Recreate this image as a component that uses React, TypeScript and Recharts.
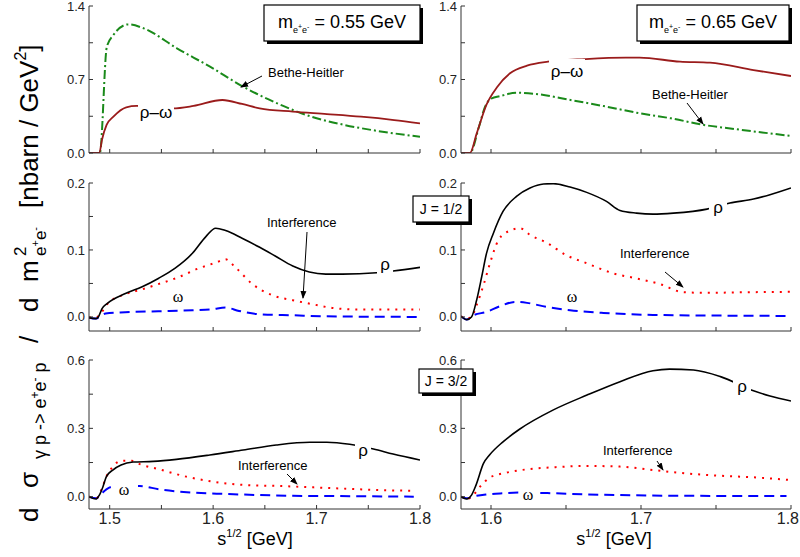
import React from "react";
import { LineChart, Line, XAxis, YAxis } from "recharts";

type Pt = [number, number];

// ---- m(e+e-) = 0.55 GeV, unpolarised (top left) ----
const rhoOmega055: Pt[] = [
  [1.48, 0], [1.49, 0], [1.4925, 0.124], [1.497, 0.267], [1.5036, 0.346], [1.516, 0.435],
  [1.526, 0.448], [1.561, 0.425], [1.581, 0.448], [1.609, 0.505], [1.628, 0.467], [1.645, 0.425],
  [1.677, 0.394], [1.71, 0.371], [1.743, 0.346], [1.775, 0.314], [1.8, 0.283],
];
const betheHeitler055: Pt[] = [
  [1.48, 0], [1.4905, 0], [1.4972, 1.01], [1.5036, 1.124], [1.518, 1.225], [1.533, 1.187],
  [1.565, 0.997], [1.597, 0.822], [1.63, 0.626], [1.662, 0.473], [1.695, 0.346], [1.727, 0.267],
  [1.759, 0.21], [1.8, 0.155],
];

// ---- m(e+e-) = 0.65 GeV (top right) ----
const rhoOmega065: Pt[] = [
  [1.58, 0], [1.586, 0], [1.5905, 0.187], [1.597, 0.46], [1.604, 0.626], [1.6127, 0.759],
  [1.624, 0.832], [1.638, 0.87], [1.663, 0.895], [1.69, 0.908], [1.699, 0.908], [1.726, 0.87],
  [1.746, 0.86], [1.775, 0.79], [1.8, 0.733],
];
const betheHeitler065: Pt[] = [
  [1.58, 0], [1.586, 0], [1.592, 0.25], [1.596, 0.44], [1.6005, 0.521], [1.6056, 0.54],
  [1.617, 0.574], [1.63, 0.562], [1.653, 0.505], [1.675, 0.447], [1.697, 0.384], [1.72, 0.33],
  [1.742, 0.267], [1.764, 0.226], [1.8, 0.162],
];

// ---- J = 1/2 ----
const rho055J1: Pt[] = [
  [1.48, -0.001], [1.4865, -0.0025], [1.489, 0], [1.4926, 0.0125], [1.4975, 0.02], [1.5152, 0.035],
  [1.5314, 0.045], [1.547, 0.0575], [1.563, 0.0725], [1.58, 0.095], [1.593, 0.12], [1.6025, 0.1325],
  [1.612, 0.129], [1.628, 0.1175], [1.645, 0.104], [1.66, 0.091], [1.677, 0.076], [1.693, 0.067],
  [1.709, 0.064], [1.725, 0.064], [1.758, 0.066], [1.774, 0.0685], [1.8, 0.074],
];
const int055J1: Pt[] = [
  [1.48, -0.001], [1.4865, -0.001], [1.49, 0.0025], [1.4975, 0.019], [1.515, 0.034], [1.531, 0.041],
  [1.547, 0.049], [1.566, 0.059], [1.586, 0.0725], [1.6025, 0.081], [1.612, 0.086], [1.6216, 0.074],
  [1.638, 0.049], [1.657, 0.0325], [1.677, 0.025], [1.696, 0.019], [1.715, 0.0135], [1.741, 0.011],
  [1.8, 0.011],
];
const omega055J1: Pt[] = [
  [1.48, -0.001], [1.4865, -0.0025], [1.49, 0], [1.496, 0.005], [1.515, 0.007], [1.547, 0.0085],
  [1.58, 0.01], [1.599, 0.0115], [1.612, 0.014], [1.625, 0.009], [1.645, 0.004], [1.677, 0.0025],
  [1.709, 0.001], [1.8, 0],
];
const rho065J1: Pt[] = [
  [1.58, 0.001], [1.5838, -0.004], [1.587, 0], [1.5904, 0.025], [1.5938, 0.06], [1.597, 0.095],
  [1.6016, 0.125], [1.608, 0.1575], [1.617, 0.18], [1.626, 0.1925], [1.635, 0.1985], [1.6416, 0.199],
  [1.6527, 0.194], [1.6638, 0.186], [1.677, 0.1725], [1.686, 0.159], [1.697, 0.155], [1.708, 0.1535],
  [1.7216, 0.155], [1.744, 0.161], [1.7593, 0.17], [1.775, 0.176], [1.786, 0.1825], [1.8, 0.1925],
];
const int065J1: Pt[] = [
  [1.58, 0.001], [1.5838, -0.0025], [1.587, 0], [1.5904, 0.0175], [1.595, 0.0475], [1.5993, 0.08],
  [1.605, 0.115], [1.6127, 0.129], [1.6193, 0.1325], [1.626, 0.1225], [1.637, 0.111], [1.65, 0.0925],
  [1.664, 0.08], [1.6816, 0.065], [1.697, 0.0575], [1.7127, 0.049], [1.728, 0.037], [1.7416, 0.036],
  [1.775, 0.037], [1.8, 0.0375],
];
const omega065J1: Pt[] = [
  [1.58, 0.001], [1.5838, -0.004], [1.5884, 0.0025], [1.597, 0.0075], [1.606, 0.016], [1.616, 0.0225],
  [1.624, 0.021], [1.637, 0.015], [1.6527, 0.01], [1.675, 0.006], [1.708, 0.003], [1.7527, 0.002],
  [1.8, 0.0015],
];

// ---- J = 3/2 ----
const rho055J3: Pt[] = [
  [1.48, 0], [1.487, -0.01], [1.49, 0.007], [1.4935, 0.044], [1.4968, 0.088], [1.503, 0.117],
  [1.511, 0.139], [1.5226, 0.152], [1.542, 0.155], [1.5645, 0.164], [1.5968, 0.183], [1.629, 0.205],
  [1.661, 0.227], [1.6935, 0.239], [1.71, 0.239], [1.732, 0.23], [1.755, 0.209], [1.774, 0.187],
  [1.8, 0.161],
];
const int055J3: Pt[] = [
  [1.48, 0], [1.487, -0.007], [1.4918, 0.029], [1.4968, 0.088], [1.503, 0.132], [1.511, 0.157],
  [1.521, 0.158], [1.529, 0.143], [1.548, 0.12], [1.574, 0.088], [1.6, 0.066], [1.632, 0.051],
  [1.6645, 0.047], [1.697, 0.041], [1.729, 0.035], [1.761, 0.029], [1.794, 0.026],
];
const omega055J3: Pt[] = [
  [1.48, 0], [1.487, -0.007], [1.4918, 0.012], [1.4968, 0.032], [1.503, 0.044], [1.529, 0.047],
  [1.548, 0.032], [1.58, 0.018], [1.613, 0.012], [1.645, 0.007], [1.677, 0.004], [1.71, 0.003],
  [1.794, 0],
];
const rho065J3: Pt[] = [
  [1.58, 0], [1.5838, -0.01], [1.587, 0.007], [1.59, 0.051], [1.595, 0.146], [1.599, 0.183],
  [1.608, 0.241], [1.619, 0.296], [1.6416, 0.381], [1.664, 0.446], [1.686, 0.505], [1.708, 0.553],
  [1.719, 0.56], [1.735, 0.556], [1.753, 0.527], [1.775, 0.465], [1.786, 0.442], [1.8, 0.42],
];
const int065J3: Pt[] = [
  [1.58, 0], [1.5838, -0.01], [1.5882, 0.007], [1.5927, 0.044], [1.599, 0.083], [1.61, 0.105],
  [1.6238, 0.12], [1.6416, 0.129], [1.664, 0.135], [1.686, 0.132], [1.708, 0.117], [1.7305, 0.102],
  [1.7527, 0.092], [1.775, 0.085], [1.8, 0.073],
];
const omega065J3: Pt[] = [
  [1.58, 0], [1.5838, -0.007], [1.5904, 0.004], [1.597, 0.01], [1.6082, 0.015], [1.6193, 0.018],
  [1.6416, 0.015], [1.664, 0.01], [1.686, 0.007], [1.7305, 0.004], [1.797, 0.003],
];

// axis ticks
const leftXTicks = [1.5, 1.55, 1.6, 1.65, 1.7, 1.75, 1.8];
const rightXTicks = [1.6, 1.65, 1.7, 1.75, 1.8];
const xLabelTicks = [1.5, 1.6, 1.7, 1.8];
const topYTicks = [0, 0.35, 0.7, 1.05, 1.4];
const topYLabels = [0, 0.7, 1.4];
const midYTicks = [0, 0.05, 0.1, 0.15, 0.2];
const midYLabels = [0, 0.1, 0.2];
const botYTicks = [0, 0.15, 0.3, 0.45, 0.6];
const botYLabels = [0, 0.3, 0.6];

const FONT = "Arial, 'Liberation Sans', sans-serif";
const AXIS = "#333";

const styles = {
  rhoOmega: { stroke: "#9a1b1b", width: 1.8, dash: undefined },
  bh: { stroke: "#1a8a1a", width: 2, dash: "9 3 2 3" },
  rho: { stroke: "#000", width: 1.6, dash: undefined },
  inter: { stroke: "#ff0000", width: 2, dash: "2 6" },
  omega: { stroke: "#0000ff", width: 2, dash: "10 6" },
};

const toRows = (pts: Pt[]) => pts.map(([x, y]) => ({ x, y }));
const has = (list: number[], v: number) => list.some((l) => Math.abs(l - v) < 1e-6);

function XTick({ x, y, payload, labels, nearEdge }: any) {
  const v = payload.value;
  // last label on the right panel would run off the page: pull it in
  const atEdge = nearEdge && Math.abs(v - 1.8) < 1e-6;
  return (
    <g>
      <line x1={x} x2={x} y1={y} y2={y - 4} stroke={AXIS} />
      {labels && has(labels, v) && (
        <text x={atEdge ? x + 8 : x} y={y + 15} textAnchor={atEdge ? "end" : "middle"} fontSize={16} fill="#222" fontFamily={FONT}>
          {v.toFixed(1)}
        </text>
      )}
    </g>
  );
}

function YTick({ x, y, payload, labels }: any) {
  const v = payload.value;
  return (
    <g>
      <line x1={x} x2={x + 4} y1={y} y2={y} stroke={AXIS} />
      {has(labels, v) && (
        <text x={x - 4} y={y} dy="0.35em" textAnchor="end" fontSize={13} fill="#222" fontFamily={FONT}>
          {v.toFixed(1)}
        </text>
      )}
    </g>
  );
}

interface PanelProps {
  left: number;
  top: number;
  width: number;
  height: number;
  xDomain: [number, number];
  xTicks: number[];
  xLabels?: number[];
  yDomain: [number, number];
  yTicks: number[];
  yLabels: number[];
  series: { data: Pt[]; kind: keyof typeof styles }[];
}

function Panel(p: PanelProps) {
  const ml = 40, mt = 12, mr = 16, xh = 30;
  const nearEdge = p.left + p.width > 780;
  return (
    <div style={{ position: "absolute", left: p.left - ml, top: p.top - mt }}>
      <LineChart width={p.width + ml + mr} height={p.height + mt + xh} margin={{ top: mt, right: mr, left: 0, bottom: 0 }}>
        <XAxis
          type="number"
          dataKey="x"
          domain={p.xDomain}
          ticks={p.xTicks}
          interval={0}
          allowDataOverflow
          height={xh}
          tickSize={0}
          tickMargin={0}
          tickLine={false}
          axisLine={{ stroke: AXIS }}
          tick={(t: any) => <XTick {...t} labels={p.xLabels} nearEdge={nearEdge} />}
        />
        <YAxis
          type="number"
          domain={p.yDomain}
          ticks={p.yTicks}
          interval={0}
          allowDataOverflow
          width={ml}
          tickSize={0}
          tickMargin={0}
          tickLine={false}
          axisLine={{ stroke: AXIS }}
          tick={(t: any) => <YTick {...t} labels={p.yLabels} />}
        />
        {p.series.map((s, i) => {
          const st = styles[s.kind];
          return (
            <Line
              key={i}
              data={toRows(s.data)}
              dataKey="y"
              type="monotone"
              stroke={st.stroke}
              strokeWidth={st.width}
              strokeDasharray={st.dash}
              dot={false}
              activeDot={false}
              isAnimationActive={false}
            />
          );
        })}
      </LineChart>
    </div>
  );
}

function NoteBox({ x, y, w, h, children }: any) {
  return (
    <g>
      <rect x={x + 3} y={y + 3} width={w} height={h} fill="#000" />
      <rect x={x} y={y} width={w} height={h} fill="#fff" stroke="#000" strokeWidth={1.2} />
      {children}
    </g>
  );
}

function Tag({ x, y, text, size = 17, serif = false, bg }: any) {
  return (
    <g>
      {bg && <rect x={bg[0]} y={bg[1]} width={bg[2]} height={bg[3]} fill="#fff" />}
      <text x={x} y={y} textAnchor="middle" fontSize={size} fontFamily={serif ? "'Liberation Serif', 'DejaVu Serif', serif" : FONT} fill="#000">
        {text}
      </text>
    </g>
  );
}

function Arrow({ x1, y1, x2, y2 }: any) {
  return <line x1={x1} y1={y1} x2={x2} y2={y2} stroke="#000" strokeWidth={1} markerEnd="url(#ah)" />;
}

function MassBox({ x, cx, w, value }: any) {
  return (
    <NoteBox x={x} y={5} w={w} h={36}>
      <text x={cx} y={28} textAnchor="middle" fontSize={18} fontFamily={FONT}>
        m
        <tspan fontSize={9} dy={5}>e</tspan>
        <tspan fontSize={7} dy={-4}>+</tspan>
        <tspan fontSize={9} dy={4}>e</tspan>
        <tspan fontSize={7} dy={-4}>-</tspan>
        <tspan dy={-1}>{` = ${value} GeV`}</tspan>
      </text>
    </NoteBox>
  );
}

// vertical title piece: starts at page y = `at` and runs upward
function VPiece({ at, off = 0, size = 26, children }: any) {
  return (
    <text x={-at} y={off} fontSize={size} fill="#000">
      {children}
    </text>
  );
}

export default function App() {
  const L = 89, R = 461, LW = 331, RW = 330;
  return (
    <div style={{ position: "absolute", left: 0, top: 0, width: 800, height: 557, background: "#fff", fontFamily: FONT }}>
      <Panel left={L} top={6} width={LW} height={147} xDomain={[1.48, 1.8]} xTicks={leftXTicks}
        yDomain={[0, 1.4]} yTicks={topYTicks} yLabels={topYLabels}
        series={[{ data: betheHeitler055, kind: "bh" }, { data: rhoOmega055, kind: "rhoOmega" }]} />
      <Panel left={R} top={6} width={RW} height={147} xDomain={[1.58, 1.8]} xTicks={rightXTicks}
        yDomain={[0, 1.4]} yTicks={topYTicks} yLabels={topYLabels}
        series={[{ data: betheHeitler065, kind: "bh" }, { data: rhoOmega065, kind: "rhoOmega" }]} />
      <Panel left={L} top={183} width={LW} height={148} xDomain={[1.48, 1.8]} xTicks={leftXTicks}
        yDomain={[-0.021, 0.2]} yTicks={midYTicks} yLabels={midYLabels}
        series={[{ data: omega055J1, kind: "omega" }, { data: int055J1, kind: "inter" }, { data: rho055J1, kind: "rho" }]} />
      <Panel left={R} top={183} width={RW} height={148} xDomain={[1.58, 1.8]} xTicks={rightXTicks}
        yDomain={[-0.021, 0.2]} yTicks={midYTicks} yLabels={midYLabels}
        series={[{ data: omega065J1, kind: "omega" }, { data: int065J1, kind: "inter" }, { data: rho065J1, kind: "rho" }]} />
      <Panel left={L} top={360} width={LW} height={149} xDomain={[1.48, 1.8]} xTicks={leftXTicks} xLabels={xLabelTicks}
        yDomain={[-0.054, 0.6]} yTicks={botYTicks} yLabels={botYLabels}
        series={[{ data: omega055J3, kind: "omega" }, { data: int055J3, kind: "inter" }, { data: rho055J3, kind: "rho" }]} />
      <Panel left={R} top={360} width={RW} height={149} xDomain={[1.58, 1.8]} xTicks={rightXTicks} xLabels={xLabelTicks}
        yDomain={[-0.054, 0.6]} yTicks={botYTicks} yLabels={botYLabels}
        series={[{ data: omega065J3, kind: "omega" }, { data: int065J3, kind: "inter" }, { data: rho065J3, kind: "rho" }]} />

      <svg width={800} height={557} style={{ position: "absolute", left: 0, top: 0, pointerEvents: "none" }} fontFamily={FONT}>
        <defs>
          <marker id="ah" markerWidth={8} markerHeight={8} refX={7} refY={4} orient="auto" markerUnits="userSpaceOnUse">
            <path d="M0,1 L8,4 L0,7 z" fill="#000" />
          </marker>
        </defs>

        {/* y-axis title, built from rotated pieces */}
        <g transform="translate(38,0) rotate(-90)">
          <VPiece at={522}>d</VPiece>
          <VPiece at={488}>σ</VPiece>
          <text x={-459} y={8} fontSize={18} fill="#000">
            {"γ p -> e"}
            <tspan fontSize={12} dy={-7}>+</tspan>
            <tspan dy={7}>e</tspan>
            <tspan fontSize={12} dy={-7}>-</tspan>
            <tspan dy={7}>{" p"}</tspan>
          </text>
          <VPiece at={343}>/</VPiece>
          <VPiece at={312}>d</VPiece>
          <VPiece at={282}>m</VPiece>
          <VPiece at={256} off={-12} size={17}>2</VPiece>
          <text x={-256} y={8} fontSize={17} fill="#000">
            e<tspan fontSize={11} dy={-7}>+</tspan>
            <tspan dy={7}>e</tspan>
            <tspan fontSize={11} dy={-7}>-</tspan>
          </text>
          <text x={-208} y={0} fontSize={26} fill="#000">
            {"[nbarn / GeV"}
            <tspan fontSize={16} dy={-12}>2</tspan>
            <tspan dy={12}>]</tspan>
          </text>
        </g>

        {/* x-axis titles */}
        {[255, 614].map((cx) => (
          <text key={cx} x={cx} y={545} textAnchor="middle" fontSize={18} fill="#000">
            s<tspan fontSize={11} dy={-8}>1/2</tspan>
            <tspan dy={8}>{" [GeV]"}</tspan>
          </text>
        ))}

        <MassBox x={264} cx={342} w={156} value="0.55" />
        <MassBox x={637} cx={713} w={152} value="0.65" />
        <NoteBox x={413} y={196} w={56} h={26}>
          <text x={441} y={214} textAnchor="middle" fontSize={14}>J = 1/2</text>
        </NoteBox>
        <NoteBox x={419} y={369} w={54} h={24}>
          <text x={446} y={386} textAnchor="middle" fontSize={14}>J = 3/2</text>
        </NoteBox>

        {/* top left */}
        <Tag x={156} y={118} text="ρ–ω" bg={[138, 100, 36, 22]} />
        <text x={268} y={77} fontSize={13}>Bethe-Heitler</text>
        <Arrow x1={262} y1={76} x2={241} y2={87} />
        {/* top right */}
        <Tag x={567} y={77} text="ρ–ω" bg={[549, 59, 36, 22]} />
        <text x={652} y={99} fontSize={13}>Bethe-Heitler</text>
        <Arrow x1={687} y1={103} x2={703} y2={124} />
        {/* middle left */}
        <text x={267} y={227} fontSize={13}>Interference</text>
        <Arrow x1={307} y1={232} x2={303} y2={298} />
        <Tag x={178} y={302} text="ω" size={16} serif />
        <Tag x={385} y={270} text="ρ" bg={[377, 255, 16, 20]} />
        {/* middle right */}
        <text x={620} y={258} fontSize={13}>Interference</text>
        <Arrow x1={665} y1={272} x2={683} y2={287} />
        <Tag x={572} y={302} text="ω" size={16} serif />
        <Tag x={718} y={213} text="ρ" bg={[709, 198, 18, 20]} />
        {/* bottom left */}
        <text x={238} y={470} fontSize={13}>Interference</text>
        <Arrow x1={287} y1={474} x2={297} y2={484} />
        <Tag x={124} y={495} text="ω" size={16} serif bg={[114, 480, 24, 17]} />
        <Tag x={363} y={456} text="ρ" bg={[355, 441, 16, 20]} />
        {/* bottom right */}
        <text x={603} y={455} fontSize={13}>Interference</text>
        <Arrow x1={657} y1={461} x2={663} y2={470} />
        <Tag x={528} y={500} text="ω" size={16} serif bg={[519, 486, 19, 17]} />
        <Tag x={742} y={392} text="ρ" bg={[733, 377, 18, 20]} />
      </svg>
    </div>
  );
}
